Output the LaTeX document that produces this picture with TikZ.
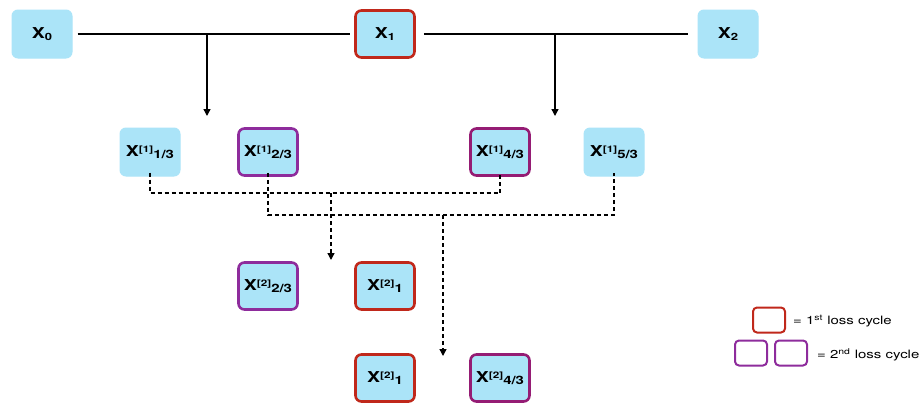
\documentclass[tikz,border=0pt]{standalone}
\usepackage{fontspec}
\usepackage{graphicx}
\setmainfont{TeX Gyre Heros}
\usetikzlibrary{arrows.meta}

\definecolor{boxfill}{HTML}{ABE4F8}
\definecolor{cycleone}{HTML}{C0281B}
\definecolor{cycletwo}{HTML}{8E2C9C}
\definecolor{cycletwob}{HTML}{951C74}

% text set slightly wide
\newcommand{\wide}[1]{\scalebox{1.3}[1]{#1}}
% variable name with bracketed superscript and trailing subscript
\newcommand{\xvar}[2]{\wide{\textbf{X}\raisebox{0.5ex}{\fontsize{9}{9}\selectfont\bfseries[#1]}\raisebox{-0.35ex}{\fontsize{11.5}{11.5}\selectfont\bfseries #2}}}
\newcommand{\xsub}[1]{\wide{\textbf{X}\raisebox{-0.3ex}{\fontsize{10}{10}\selectfont\bfseries #1}}}

\begin{document}
\begin{tikzpicture}[x=1pt,y=-1pt,
  var/.style={rounded corners=6pt, fill=boxfill, draw=boxfill, line width=1pt,
    minimum width=60pt, minimum height=48pt, inner sep=0pt, font=\fontsize{15}{15}\selectfont},
  first/.style={var, draw=cycleone, line width=2.6pt, minimum width=59pt, minimum height=47pt},
  second/.style={var, draw=cycletwo, line width=2.6pt, minimum width=59pt, minimum height=47pt},
  secondb/.style={second, draw=cycletwob},
  legbox/.style={rounded corners=4pt, draw=#1, line width=2pt, minimum width=32pt, minimum height=25pt, inner sep=0pt},
  link/.style={line width=1.4pt},
  dlink/.style={line width=1.4pt, dash pattern=on 4pt off 3pt},
  tip/.style={-{Triangle[width=7pt,length=7pt]}},
  legtext/.style={anchor=west, inner sep=0pt, font=\fontsize{11.5}{11.5}\selectfont}
]
\useasboundingbox (0,0) rectangle (920,402);

% top row
\node[var]   (x0) at (42,34)  {\xsub{0}};
\node[first] (x1) at (385,34) {\xsub{1}};
\node[var]   (x2) at (728,34) {\xsub{2}};

% first refinement
\node[var]     (a13) at (150,152) {\xvar{1}{1/3}};
\node[second]  (a23) at (268,152) {\xvar{1}{2/3}};
\node[secondb] (a43) at (500,152) {\xvar{1}{4/3}};
\node[var]     (a53) at (614,152) {\xvar{1}{5/3}};

% second refinement
\node[second]  (b23) at (268,286) {\xvar{2}{2/3}};
\node[first]   (b1)  at (385,286) {\xvar{2}{1}};
\node[first]   (c1)  at (385,378) {\xvar{2}{1}};
\node[secondb] (c43) at (500,378) {\xvar{2}{4/3}};

% solid connectors
\draw[link] ([xshift=5pt]x0.east) -- ([xshift=-4pt]x1.west);
\draw[link] ([xshift=8pt]x1.east) -- ([xshift=-10pt]x2.west);
\coordinate (s1) at (207,34);
\coordinate (e1) at (207,116);
\coordinate (s2) at (555,34);
\coordinate (e2) at (555,116);
\draw[link,tip] (s1) -- (e1);
\draw[link,tip] (s2) -- (e2);

% dashed connectors
\coordinate (d1) at (331,193);
\coordinate (f1) at (331,260);
\coordinate (d2) at (443,215);
\coordinate (f2) at (443,356);
\draw[dlink] ([yshift=4pt]a13.south) |- (d1) -| ([yshift=4pt]a43.south);
\draw[dlink] ([yshift=4pt]a23.south) |- (d2) -| ([yshift=4pt]a53.south);
\draw[dlink,tip] (d1) -- (f1);
\draw[dlink,tip] (d2) -- (f2);

% legend
\node[legbox=cycleone] (l1) at (769,320) {};
\node[legbox=cycletwo] (l2) at (751,353) {};
\node[legbox=cycletwo] (l3) at (791,353) {};
\node[legtext] (t1) at (793,321) {\wide{= 1\textsuperscript{st} loss cycle}};
\node[legtext] (t2) at (817,355) {\wide{= 2\textsuperscript{nd} loss cycle}};
\end{tikzpicture}
\end{document}
